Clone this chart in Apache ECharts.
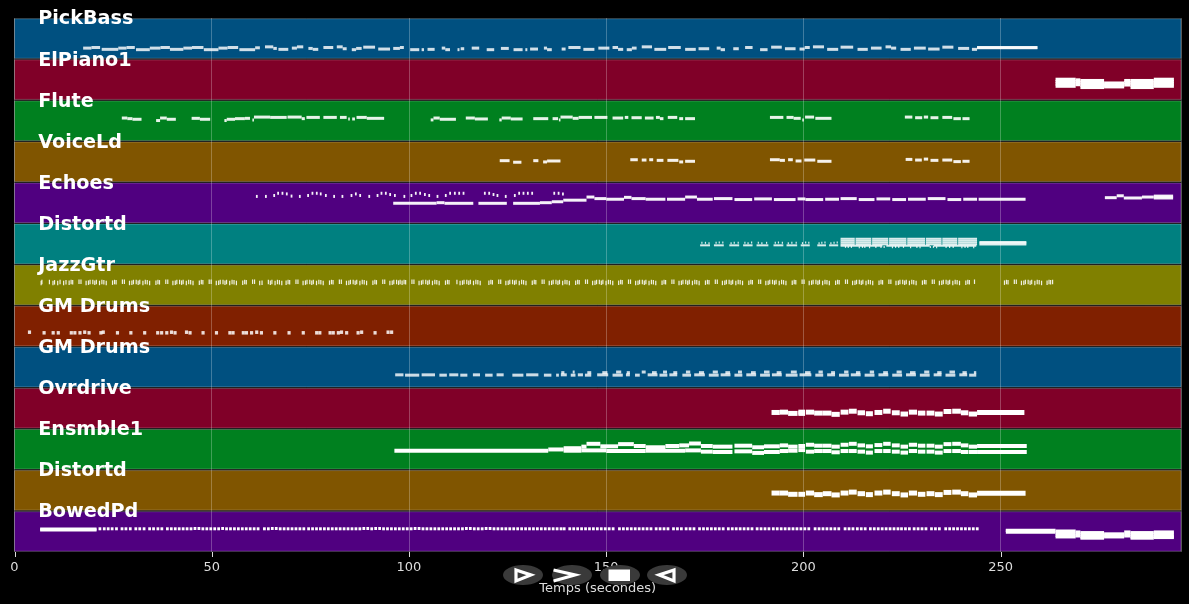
<!DOCTYPE html>
<html>
<head>
<meta charset="utf-8">
<script src="https://cdn.jsdelivr.net/npm/echarts@6/dist/echarts.min.js"></script>
<style>
  html, body { margin: 0; background: #000; }
  #chart { width: 1189px; height: 604px; }
</style>
</head>
<body>
<div id="chart"></div>
<script>
// one row per midi track, top to bottom
const trackNames = ['PickBass', 'ElPiano1', 'Flute', 'VoiceLd', 'Echoes', 'Distortd', 'JazzGtr',
  'GM Drums', 'GM Drums', 'Ovrdrive', 'Ensmble1', 'Distortd', 'BowedPd'];
const xTicks = [0, 50, 100, 150, 200, 250];
const xEnd = 295.7;

// notes are [start, end, pitch] or, for very short ones, [start, pitch]
const pickBass = [
  [17.4,19.5,33],[19.5,21.7,35],[22.1,26.3,29],[26.3,28.4,33],[28.4,30.5,35],[30.8,34.3,28],[34.3,37,33],[37,39.4,35],[39.4,42.8,29],[42.8,45,33],[45,47.9,35],[48,51.7,28],
  [51.7,54,33],[54,56.7,35],[57,61,28],[61,62.2,34],[63.5,65.6,37],[65.6,66.5,32],[66.9,69.4,29],[70.3,71.6,33],[71.6,73.2,37],[74.5,75.6,32],[75.6,77,29],
  [78.3,80.8,35],[81.7,83.2,37],[83.2,84.2,31],[85.5,86.6,28],[86.6,88,32],[88.4,91.4,36],[92.2,95.2,30],[96,97.7,32],[97.7,98.7,35],
  [100.3,102.6,28],[103.2,103.8,28],[104.7,106.5,29],[108.3,109.2,33],[109.2,110.4,28],[112.3,112.8,28],[113.1,114,31],
  [115.9,117.8,33],[119.7,121.6,28],[123.3,125.3,32],[126.5,128.8,28],[129.5,130,28],[130.7,132.7,30],[134.2,135,33],
  [135,136.2,28],[138.7,139.7,30],[140.4,143.5,35],[144.2,147,29],[148,150.8,33],[151.6,153,35],[153,154.3,29],
  [155.2,156.5,28],[156.5,157.7,33],[159,161.6,37],[162.2,165.2,29],[165.7,168.9,35],[170,172.7,29],[173.4,176.1,31],
  [178,179,33],[179,180.1,28],[182.2,183.6,31],[185.2,187.1,35],[189,190.9,28],[191.8,194.5,36],[195.3,198,31],
  [199,200.3,30],[200.3,201.6,35],[202.4,205.2,37],[206,208.8,29],[209.4,212.6,36],[213.7,216.3,29],[217.1,219.8,33],
  [220.8,222.2,37],[222.2,223.5,33],[224.6,227.2,29],[228,231,33],[231.6,234.5,30],[235.2,238,36],[239.2,242,32],
  [242.7,244,29],[244,259.3,34],[244,259.3,35]
];
const elPiano = [
  [263.9,269,64],[263.9,269,57],[263.9,269,50],[263.9,269,43],[269,270.2,62],[269,270.2,55],[269,270.2,48],
  [270.2,276.2,60],[270.2,276.2,53],[270.2,276.2,46],[270.2,276.2,39],[276.2,281.3,52],[276.2,281.3,46],[276.2,281.3,41],
  [281.3,282.9,60],[281.3,282.9,54],[281.3,282.9,47],[282.9,288.8,60],[282.9,288.8,53],[282.9,288.8,46],[282.9,288.8,39],
  [288.8,293.9,64],[288.8,293.9,57],[288.8,293.9,50],[288.8,293.9,43]
];
const flute = [
  [27.2,28.6,72],[28.6,29.9,70],[29.9,32.2,68],[35.9,36.9,64],[36.9,38.6,72],[38.6,40.9,68],[44.9,47,71],[47,49.6,68],
  [53.2,53.8,64],[53.8,55.9,68],[55.9,58.4,70],[58.4,59.7,71],[60.3,60.7,66],[60.7,64.8,75],[64.8,69,74],[69.2,72.8,75],
  [72.8,73.6,70],[74,77.4,74],[78.3,81.7,74],[82.5,84.2,74],[84.6,85,69],[85.6,86.3,69],[86.7,89.3,74],[89.3,93.7,71],
  [105.5,106.2,66],[106.2,107.8,72],[107.8,111.9,68],[114.4,116.7,72],[116.7,120,69],[122.9,123.5,66],[123.5,125.8,72],
  [125.8,128.8,69],[131.5,135.3,70],[136.4,137.8,70],[138,138.4,66],[138.4,141.5,75],[141.5,143,71],[143,146.4,74],
  [147,150.3,74],[151.6,154.3,72],[154.7,155.6,74],[156.4,159,73],[159.8,162,72],[162.6,163.6,74],[163.6,164.5,70],
  [165.6,168,74],[168.5,169.5,70],[170,172.5,70],[191.5,194.9,74],[195.7,197.5,74],[197.5,199.3,71],[199.7,200.1,66],
  [200.4,202.7,75],[203,207.1,71],[225.7,227.6,75],[228.3,230.1,73],[230.5,231.6,75],[232.2,234.2,73],[235.2,237.7,74],
  [238,239.9,70],[240.3,242.1,70]
];
const voiceLd = [
  [123,125.5,67],[126.4,128.5,62],[131.5,132.8,67],[134,135,63],[135,138.4,66],[156.1,158,70],[159,160.2,69],[160.9,161.9,70],
  [162.8,164.5,68],[165.5,168.3,68],[168.5,169.5,63],[170,172.5,65],[191.5,194,70],[194,195.3,68],[196.1,197.3,70],
  [198,199.5,66],[200.2,203,69],[203.5,207.1,65],[225.9,227.6,71],[228.3,230,69],[230.5,231.6,72],[232.2,234.2,68],
  [235.2,237.7,69],[238,239.9,64],[240.3,242.1,65]
];
const echoes = [
  [61.2,84],[63.5,84],[65.6,87],[66.6,94],[67.7,94],[68.8,92],[70,85],[72.1,84],[74.2,87],[75.3,94],[76.4,94],[77.4,92],
  [78.7,87],[80.8,84],[82.9,84],[85.2,87],[86.3,92],[87.4,87],[89.7,84],[91.8,87],[92.8,94],[93.9,94],[95,90],[96.2,87],
  [98.6,84],[100.4,87],[101.5,94],[102.6,94],[103.8,90],[104.9,87],[107,84],[109.1,87],[110.2,94],[111.4,94],[112.5,94],
  [113.6,94],[119,94],[120.1,94],[121.2,90],[122.2,87],[124.3,84],[126.6,87],[127.7,94],[128.8,94],[129.9,94],[131,94],
  [136.6,94],[137.7,94],[138.8,92],
  [96,107,62],[107,109,64],[109,116.3,62],[117.6,124.8,62],[126.4,133.2,62],[133.2,136.2,64],[136.2,139.1,67],[139.1,145,72],
  [145,147,82],[147,150,77],[150,154.5,75],[154.5,156.4,81],[156.4,160,77],[160,165,75],[165.4,170,75],[170,173,82],
  [173,177,75],[177.3,182,77],[182.5,187,74],[187.5,192,76],[192.5,198,74],[198.5,200.5,76],[200.5,205,74],[205.5,209,75],
  [209.4,213.5,77],[214,218,74],[218.5,222,76],[222.5,226,74],[226.5,231,75],[231.5,236,77],[236.5,240,74],[240.5,244,75],
  [244.4,256.3,75],[276.4,279.4,80],[279.4,281.2,86],[281.2,285.8,79],[285.8,288.8,82],[288.8,293.7,85],[288.8,293.7,79]
];
const distortdTop = [
  [173.8,176.3,59],[177.3,179.8,59],[181.2,183.7,59],[184.7,187.1,59],[188.1,191.1,59],[192.4,194.9,59],[195.7,198.4,59],
  [199.3,201.6,59],[203.5,205.7,59],[206.5,208.8,59],
  [174.1,67],[175,67],[175.9,66],[177.7,67],[178.5,68],[179.4,68],[181.5,66],[182.3,67],[183.3,67],[185,67],[185.8,66],
  [186.7,68],[188.4,67],[189.3,66],[190.5,67],[192.7,67],[193.5,68],[194.5,67],[196,66],[196.9,67],[198,67],[199.6,66],[200.4,68],[201.2,67],
  [203.8,66],[204.5,67],[205.3,68],[206.8,66],[207.6,67],[208.4,68],
  [209.4,213,80],[209.4,213,74],[209.4,213,68],[209.4,213,62],[213.2,217.2,80],[213.2,217.2,74],[213.2,217.2,68],[213.2,217.2,62],
  [217.4,221.5,80],[217.4,221.5,74],[217.4,221.5,68],[217.4,221.5,62],[221.7,226.1,80],[221.7,226.1,74],[221.7,226.1,68],[221.7,226.1,62],
  [226.3,230.8,80],[226.3,230.8,74],[226.3,230.8,68],[226.3,230.8,62],[231,235,80],[231,235,74],[231,235,68],[231,235,62],
  [235.2,239,80],[235.2,239,74],[235.2,239,68],[235.2,239,62],[239.2,244,80],[239.2,244,74],[239.2,244,68],[239.2,244,62],
  [210.5,54],[211.2,54],[212,54],[214,53],[214.8,54],[215.4,54],[216.6,53],[218.2,54],[219.5,54],[220.3,54],[222.4,53],[223.2,54],[224,54],[225.2,54],[227,53],[228.6,54],[229.4,53],
  [232,54],[232.8,54],[233.6,53],[236,54],[236.9,54],[237.8,54],[240,53],[240.8,54],[241.5,54],[243,53],
  [209.4,220,58],[221,232,58],[233,243.8,58],
  [244.6,256.5,70],[244.6,256.5,66],[244.6,256.5,62]
];
const jazzGtr = [
  [6.6,70],[6.8,73],[8.7,73],[9.6,70],[10,72],[10.8,70],[11.4,73],[12.3,70],[12.9,72],
  [13.7,71],[14.2,73],[14.6,72],[16.2,74],[16.7,74],[18,70],[18.6,71],[19,73],[19.7,73],[20.2,71],[20.6,73],[21.4,70],[22,73],[22.5,72],[23.1,70],
  [24.7,71],[25.2,73],[25.6,72],[27.2,74],[27.7,74],[29,70],[29.6,71],[30,73],[30.7,73],[31.2,71],[31.6,73],[32.4,70],[33,73],[33.5,72],[34.1,70],
  [35.7,71],[36.2,73],[36.6,72],[38.2,74],[38.7,74],[40,70],[40.6,71],[41,73],[41.7,73],[42.2,71],[42.6,73],[43.4,70],[44,73],[44.5,72],[45.1,70],
  [46.7,71],[47.2,73],[47.6,72],[49.2,74],[49.7,74],[51,70],[51.6,71],[52,73],[52.7,73],[53.2,71],[53.6,73],[54.4,70],[55,73],[55.5,72],[56.1,70],
  [57.7,71],[58.2,73],[58.6,72],[60.2,74],[60.7,74],[62,70],[62.6,71],[64.2,73],[64.7,71],[65.1,73],[65.9,70],[66.5,73],[67,72],[67.6,70],
  [68.7,71],[69.2,73],[69.6,72],[71.2,74],[71.7,74],[73,70],[73.6,71],[74,73],[74.7,73],[75.2,71],[75.6,73],[76.4,70],[77,73],[77.5,72],[78.1,70],
  [79.7,71],[80.2,73],[80.6,72],[82.2,74],[82.7,74],[84,70],[84.6,71],[85,73],[85.7,73],[86.2,71],[86.6,73],[87.4,70],[88,73],[88.5,72],[89.1,70],
  [90.7,71],[91.2,73],[91.6,72],[93.2,74],[93.7,74],[95,70],[95.6,71],[96,73],[96.7,73],[97.2,71],[97.6,73],
  [98.1,71],[98.6,73],[99,72],[100.6,74],[101.1,74],[102.4,70],[103,71],[103.4,73],[104.1,73],[104.6,71],[105,73],[105.8,70],[106.4,73],[106.9,72],[107.5,70],
  [109.1,71],[109.6,73],[110,72],[112,73],[112.8,70],[113.4,71],[113.8,73],[114.5,73],[115,71],[115.4,73],[116.2,70],[116.8,73],[117.3,72],[117.9,70],
  [120.1,71],[120.6,73],[121,72],[122.6,74],[123.1,74],[124.4,70],[125,71],[125.4,73],[126.1,73],[126.6,71],[127,73],[127.8,70],[128.4,73],[128.9,72],[129.5,70],
  [131.1,71],[131.6,73],[132,72],[133.6,74],[134.1,74],[135.4,70],[136,71],[136.4,73],[137.1,73],[137.6,71],[138,73],[138.8,70],[139.4,73],[139.9,72],[140.5,70],
  [142.1,71],[142.6,73],[143,72],[144.6,74],[145.1,74],[146.4,70],[147,71],[147.4,73],[148.1,73],[148.6,71],[149,73],[149.8,70],[150.4,73],[150.9,72],[151.5,70],
  [153,71],[153.5,73],[153.9,72],[155.5,74],[156,74],[157.3,70],[157.9,71],[158.3,73],[159,73],[159.5,71],[159.9,73],[160.7,70],[161.3,73],[161.8,72],[162.4,70],
  [164,71],[164.5,73],[164.9,72],[166.5,74],[167,74],[168.3,70],[168.9,71],[169.3,73],[170,73],[170.5,71],[170.9,73],[171.7,70],[172.3,73],[172.8,72],[173.4,70],
  [175,71],[175.5,73],[175.9,72],[177.5,74],[178,74],[179.3,70],[179.9,71],[180.3,73],[181,73],[181.5,71],[181.9,73],[182.7,70],[183.3,73],[183.8,72],[184.4,70],
  [186,71],[186.5,73],[186.9,72],[188.5,74],[189,74],[190.3,70],[190.9,71],[191.3,73],[192,73],[192.5,71],[192.9,73],[193.7,70],[194.3,73],[194.8,72],[195.4,70],
  [197,71],[197.5,73],[197.9,72],[199.5,74],[200,74],[201.3,70],[201.9,71],[202.3,73],[203,73],[203.5,71],[203.9,73],[204.7,70],[205.3,73],[205.8,72],[206.4,70],
  [208,71],[208.5,73],[208.9,72],[210.5,74],[211,74],[212.3,70],[212.9,71],[213.3,73],[214,73],[214.5,71],[214.9,73],[215.7,70],[216.3,73],[216.8,72],[217.4,70],
  [219,71],[219.5,73],[219.9,72],[221.5,74],[222,74],[223.3,70],[223.9,71],[224.3,73],[225,73],[225.5,71],[225.9,73],[226.7,70],[227.3,73],[227.8,72],[228.4,70],
  [230,71],[230.5,73],[230.9,72],[232.5,74],[233,74],[234.3,70],[234.9,71],[235.3,73],[236,73],[236.5,71],[236.9,73],[237.7,70],[238.3,73],[238.8,72],[239.4,70],
  [241,71],[241.5,73],[241.9,72],[243.2,74],
  [250.8,71],[251.3,73],[251.7,72],[253.3,74],[253.8,74],[255.1,70],[255.7,71],[256.1,73],[256.8,73],[257.3,71],[257.7,73],[258.5,70],[259.1,73],[259.6,72],[260.2,70],[261.6,71],[262.1,73],[262.5,72],[263,73]
];
const drumsA = [
  [3.4,44],[7.1,42],[9.4,42],[10.7,42],[14,42],[14.9,42],[16.2,42],[17.4,44],[18.5,42],[21.5,42],[22.1,44],[25.7,42],[29.1,42],
  [32.6,42],[35.9,42],[36.9,42],[38.2,42],[39.4,44],[40.3,42],[43.2,44],[44.1,42],[47.4,42],[50.8,42],[54.2,42],[55,42],[57.6,42],
  [58.4,42],[59.7,42],[61,44],[62.2,42],[65.6,42],[69.2,42],[72.8,42],[76.2,42],[77,42],[79.6,42],[80.4,42],[81.7,42],[82.5,44],
  [83.8,42],[86.7,42],[87.6,44],[91,42],[94.3,44],[95.2,44]
];
const drumsB = [
  [96.5,98.6,39],[99,102.6,38],[103.2,106.6,39],[107.7,109.6,38],[110.2,112.5,39],[113,114.8,38],[116.2,118,39],[119.3,121.2,38],
  [122.2,124,39],[126.2,129,38],[129.7,132.8,39],[134.2,136.1,38],[137.3,138,38],[138.5,140,39],[141,142.2,38],[142.8,144.1,39],
  [144.6,146.2,38],[147.7,150.5,39],[151.6,154.2,38],[155,156,39],[157.3,158.5,38],[160.5,163,39],[163.5,165.5,38],[166,168,39],
  [169.3,171.5,38],[172.3,175,39],[176,178.5,38],[179,181.5,39],[182.5,184.5,38],[185.5,188,39],[189,191.5,38],[192,194.5,39],
  [195.5,198.5,38],[199,202,39],[203,205,38],[206,208,39],[209,211.5,38],[212,214.5,39],[215.5,218,38],[219,221.5,39],
  [222.5,225,38],[226,228.5,39],[229.5,232,38],[233,235,39],[236,238.5,38],[239.5,241.5,39],[242,243.8,38],
  [138.6,139.4,46],[141.5,142,48],[145.2,146.2,46],[149,150.3,46],[152.5,153.8,48],[155.2,156,46],[159,160,48],[161.6,162.8,46],
  [164.4,165.4,48],[167,168,46],[170.2,171.3,48],[173.5,174.8,46],[177,178.3,48],[180.2,181.4,46],[183.4,184.4,48],[186.7,187.9,46],
  [190,191.4,48],[193.2,194.4,46],[196.8,198.3,48],[200.4,201.8,46],[203.8,204.9,48],[207,208,46],[210.3,211.4,48],[213.3,214.4,46],
  [216.8,217.9,48],[220.2,221.4,46],[223.6,224.9,48],[227,228.4,46],[230.6,231.9,48],[233.9,235,46],[237,238.4,48],[240.3,241.4,46],[243.2,243.8,46]
];
const ovrdrive = [
  [191.9,194,50],[194,196.1,51],[196.1,198.5,47],[198.7,200.4,47],[198.7,200.4,51],[200.6,202.7,51],[202.7,204.9,48],[204.9,207.1,48],
  [207.1,209.2,44],[209.4,211.4,51],[211.5,213.5,54],[213.7,215.6,49],[215.8,217.6,46],[218,220,50],[220.2,222.1,54],[222.4,224.4,49],
  [224.6,226.5,45],[226.7,228.8,51],[229,230.9,48],[231.2,233.2,48],[233.3,235.3,45],[235.5,237.5,53],[237.7,239.9,54],[239.9,241.8,49],
  [241.9,244,45],[244,256,50]
];
const ensmble = [
  [96.3,135.3,59],
  [135.3,139.2,63],[139.2,143.7,67],[143.7,145,72],[145,148.5,81],[148.5,153,73],[153,157,80],[157,160,74],[160,165,70],[165,168.5,74],
  [168.5,171,76],[171,174,82],[174,177,74],[177,182,72],[182.5,187,75],[187,190,70],[190,194,73],[194,196.1,76],[196.1,198.5,72],
  [198.7,200.4,74],[200.6,202.7,78],[202.7,204.9,75],[204.9,207.1,75],[207.1,209.2,72],[209.4,211.4,78],[211.5,213.5,81],[213.7,215.6,76],
  [215.8,217.6,73],[218,220,77],[220.2,222.1,81],[222.4,224.4,76],[224.6,226.5,72],[226.7,228.8,78],[229,230.9,75],[231.2,233.2,75],
  [233.3,235.3,72],[235.5,237.5,80],[237.7,239.9,81],[239.9,241.8,76],[241.9,244,72],[244,256.6,74],
  [139.2,143.7,59],[143.7,150,60],[150,160,58],[160,170,59],[170,174,60],[174,177,56],[177,182,55],[182.5,187,57],[187,190,52],[190,194,55],
  [194,196.1,58],[196.1,198.5,59],[198.7,200.4,61],[200.6,202.7,56],[202.7,204.9,58],[204.9,207.1,58],[207.1,209.2,54],[209.4,211.4,58],
  [211.5,213.5,58],[213.7,215.6,56],[215.8,217.6,53],[218,220,58],[220.2,222.1,58],[222.4,224.4,56],[224.6,226.5,53],[226.7,228.8,58],
  [229,230.9,56],[231.2,233.2,56],[233.3,235.3,53],[235.5,237.5,58],[237.7,239.9,58],[239.9,241.8,55],[241.9,244,55],[244,256.6,55]
];
const distortdBottom = [
  [191.9,194,55],[194,196.1,55],[196.1,198.5,51],[198.7,200.4,51],[200.6,202.7,55],[202.7,204.9,50],[204.9,207.1,53],
  [207.1,209.2,49],[209.4,211.4,55],[211.5,213.5,58],[213.7,215.6,53],[215.8,217.6,50],[218,220,55],[220.2,222.1,58],[222.4,224.4,53],
  [224.6,226.5,49],[226.7,228.8,55],[229,230.9,51],[231.2,233.2,53],[233.3,235.3,50],[235.5,237.5,57],[237.7,239.9,58],[239.9,241.8,53],
  [241.9,244,49],[244,256.3,54]
];
const bowedPd = [
  [6.5,20.8,71],[6.5,20.8,68],[251.3,252.8,66],[251.3,263.9,67],[251.3,263.9,61],[263.9,269,65],[263.9,269,58],[263.9,269,51],[263.9,269,46],[269,270.2,62],[269,270.2,55],[269,270.2,49],
  [270.2,276.2,60],[270.2,276.2,53],[270.2,276.2,46],[270.2,276.2,42],[276.2,281.3,56],[276.2,281.3,50],[276.2,281.3,46],[281.3,282.9,62],[281.3,282.9,55],[281.3,282.9,49],
  [282.9,288.8,60],[282.9,288.8,53],[282.9,288.8,46],[282.9,288.8,42],[288.8,293.9,62],[288.8,293.9,55],[288.8,293.9,48],[288.8,293.9,44],
  [21.3,72],[22.4,72],[23.4,72],[24.4,72],[25.5,72],[26.9,72],[27.9,72],[29,72],[30.4,72],[31.4,72],[32.5,72],[33.9,72],[34.9,72],[36,72],
  [37,72],[38.4,72],[39.4,72],[40.4,72],[41.4,72],[42.4,72],[43.4,72],[44.4,72],[45.4,73],[46.4,73],[47.4,72],[48.4,72],[49.4,72],
  [50.4,72],[51.4,72],[52.4,73],[53.4,72],[54.4,72],[55.4,72],[56.4,72],[57.4,72],[58.4,72],[59.4,72],[60.4,72],[61.4,72],[63,72],[64,72],
  [65,73],[66,73],[67,72],[68,72],[69,72],[70,72],[71,72],[72,72],[73,72],[74.2,72],[75.2,72],[76.2,72],[77.2,72],[78.2,72],[79.2,72],
  [80.2,72],[81.2,72],[82.2,72],[83.2,72],[84.2,72],[85.2,72],[86.2,72],[87.2,72],[88.2,73],[89.2,73],[90.2,72],[91.2,73],[92.2,73],[93.2,72],
  [94.2,72],[95.2,72],[96.2,72],[97.2,72],[98.2,72],[99.2,72],[100.2,72],[101.2,73],[102.2,73],[103.2,72],[104.2,72],[105.2,72],[106.2,72],
  [107.2,72],[108.2,72],[109.2,72],[110.2,72],[111.2,72],[112.2,72],[113.2,72],[114.2,73],[115.2,73],[116.2,72],[117.2,72],[118.2,72],
  [119.2,73],[120.2,73],[121.2,72],[122.2,72],[123.2,72],[124.2,72],[125.2,72],[126.2,72],[127.2,72],[128.2,72],[129.2,72],[130.2,72],
  [131.2,72],[132.2,72],[133.2,72],[134.2,72],[135.2,72],[136.2,72],[137.2,72],[138.2,72],[139,72],[140.4,72],[141.4,72],[142.4,72],[143.4,72],
  [144.4,72],[145.4,72],[146.4,72],[147.4,72],[148.4,72],[149.4,72],[150.4,72],[151.4,72],[153,72],[154,72],[155,72],[156,72],[157,72],
  [158,72],[159,72],[160,72],[161,72],[162.3,72],[163.3,72],[164.3,72],[165.3,72],[166.7,72],[167.7,72],[168.7,72],[169.9,72],[170.9,72],
  [171.9,72],[173.3,72],[174.3,72],[175.3,72],[176.3,72],[177.3,72],[178.3,72],[179.3,72],[180.6,72],[181.6,72],[182.6,72],[183.6,72],
  [184.6,72],[185.6,72],[186.6,72],[187.9,72],[188.9,72],[189.9,72],[190.9,72],[192,72],[193,72],[194,72],[195,72],[196,72],[197,72],[198,72],
  [199,72],[200,72],[201,72],[202.6,72],[203.6,72],[204.6,72],[205.6,72],[206.6,72],[207.6,72],[208.6,72],[210.2,72],[211.2,72],[212.2,72],
  [213.3,72],[214.3,72],[215.3,72],[216.6,72],[217.6,72],[218.6,72],[219.6,72],[220.6,72],[221.6,72],[222.6,72],[223.6,72],[224.5,72],[225.5,72],
  [226.5,72],[227.7,72],[228.7,72],[229.7,72],[230.7,72],[232.1,72],[233.1,72],[234.1,72],[235.7,72],[236.7,72],[237.7,72],[238.7,72],
  [239.7,72],[240.7,72],[241.7,72],[242.7,72],[243.7,72]
];
const trackNotes = [pickBass, elPiano, flute, voiceLd, echoes, distortdTop, jazzGtr, drumsA, drumsB, ovrdrive, ensmble, distortdBottom, bowedPd];

// styling per row
const rowColors = ['#005080', '#800028', '#00801f', '#805500', '#500080', '#008080', '#808000', '#802000',
  '#005080', '#800028', '#00801f', '#805500', '#500080'];
const noteHeights = [3, 3.5, 3, 3, 3, 2, 4.5, 3.5, 3, 5, 4, 5, 3];
const noteOpacity = [0.82, 1, 0.9, 0.92, 0.95, 0.85, 0.88, 0.85, 0.8, 1, 1, 1, 1];
const shortNoteLen = [0.5, 0.5, 0.5, 0.5, 0.45, 0.3, 0.3, 0.8, 0.5, 0.5, 0.5, 0.5, 0.7];
const PITCH_MAX = 127;

function pitchToY(row, pitch) {
  return row + 0.985 - pitch / PITCH_MAX * 0.97;
}

function renderBand(params, api) {
  var row = api.value(0);
  var start = api.coord([api.value(1), row + 0.018]);
  var end = api.coord([api.value(2), row + 0.982]);
  return {
    type: 'rect',
    shape: { x: start[0], y: start[1], width: end[0] - start[0], height: end[1] - start[1] },
    style: { fill: rowColors[row], stroke: 'rgba(255,255,255,0.25)', lineWidth: 1 }
  };
}

function renderNote(params, api) {
  var row = params.seriesIndex - 1;
  var start = api.coord([api.value(0), api.value(2)]);
  var end = api.coord([api.value(1), api.value(2)]);
  var h = noteHeights[row];
  return {
    type: 'rect',
    shape: { x: start[0], y: start[1] - h / 2, width: Math.max(end[0] - start[0], 1.2), height: h },
    style: { fill: '#fff', opacity: noteOpacity[row] }
  };
}

function renderLabel(params, api) {
  var pos = api.coord([api.value(0), api.value(1)]);
  return {
    type: 'text',
    x: pos[0],
    y: pos[1] + 1.5,
    style: {
      text: trackNames[api.value(1)],
      fill: '#fff',
      font: 'bold 19.2px "DejaVu Sans"',
      textAlign: 'left',
      textVerticalAlign: 'middle'
    }
  };
}

// axis ticks did not show from axisTick, so they are drawn here
function renderTick(params, api) {
  var pos = api.coord([api.value(0), trackNames.length]);
  return {
    type: 'rect',
    shape: { x: Math.round(pos[0]), y: pos[1], width: 1, height: 5 },
    style: { fill: '#ddd' }
  };
}

var noteSeries = trackNotes.map(function (notes, row) {
  return {
    type: 'custom',
    name: trackNames[row],
    renderItem: renderNote,
    z: 4,
    silent: true,
    progressive: 0,
    encode: { x: [0, 1], y: 2 },
    data: notes.map(function (n) {
      var start = n[0];
      var end = n.length == 3 ? n[1] : n[0] + shortNoteLen[row];
      var pitch = n[n.length - 1];
      return [start, end, pitchToY(row, pitch)];
    })
  };
});

var chart = echarts.init(document.getElementById('chart'), null, { renderer: 'canvas' });

function pillElements() {
  var centers = [523, 572, 620, 667];
  var list = centers.map(function (cx) {
    return { type: 'ellipse', z: 10, shape: { cx: cx, cy: 575, rx: 20, ry: 10 }, style: { fill: '#3a3a3a' } };
  });
  var glyph = { stroke: '#fff', lineWidth: 3.2, fill: 'none', lineJoin: 'miter' };
  list.push({ type: 'polygon', z: 11, shape: { points: [[516, 570], [531, 575], [516, 581]] }, style: glyph });
  list.push({ type: 'polyline', z: 11, shape: { points: [[553.5, 570], [575, 575], [553.5, 581]] }, style: glyph });
  list.push({ type: 'rect', z: 11, shape: { x: 608.5, y: 569.5, width: 21.5, height: 11.5 }, style: { fill: '#fff' } });
  list.push({ type: 'polygon', z: 11, shape: { points: [[674, 570], [659, 575], [674, 581]] }, style: glyph });
  return list;
}

chart.setOption({
  backgroundColor: '#000',
  animation: false,
  textStyle: { fontFamily: 'DejaVu Sans' },
  grid: { left: 14.5, right: 8, top: 18, bottom: 52 },
  xAxis: [{
    type: 'value',
    min: 0,
    max: xEnd,
    interval: 50,
    z: 3,
    axisLine: { show: false, onZero: false },
    axisTick: { show: false },
    axisLabel: { color: '#ddd', fontSize: 13, margin: 9, customValues: xTicks },
    splitLine: { show: true, lineStyle: { color: 'rgba(255,255,255,0.25)', width: 1 } }
  }, {
    type: 'value',
    min: 0,
    max: xEnd,
    position: 'bottom',
    z: 20,
    axisLine: { show: false, onZero: false },
    axisTick: { show: false },
    axisLabel: { show: false },
    splitLine: { show: false },
    name: 'Temps (secondes)',
    nameLocation: 'middle',
    nameGap: 30,
    nameTextStyle: { color: '#ddd', fontSize: 13 }
  }],
  yAxis: { type: 'value', min: 0, max: 13, inverse: true, show: false },
  graphic: { elements: pillElements() },
  series: [{
    type: 'custom',
    renderItem: renderBand,
    z: 1,
    silent: true,
    encode: { x: [1, 2], y: 0 },
    data: trackNames.map(function (name, i) { return [i, 0, xEnd]; })
  }].concat(noteSeries, [{
    type: 'custom',
    renderItem: renderLabel,
    z: 6,
    silent: true,
    clip: false,
    encode: { x: 0, y: 1 },
    data: trackNames.map(function (name, i) { return [6, i]; })
  }, {
    type: 'custom',
    renderItem: renderTick,
    z: 6,
    silent: true,
    clip: false,
    encode: { x: 0 },
    data: xTicks.map(function (t) { return [t]; })
  }])
});
</script>
</body>
</html>
